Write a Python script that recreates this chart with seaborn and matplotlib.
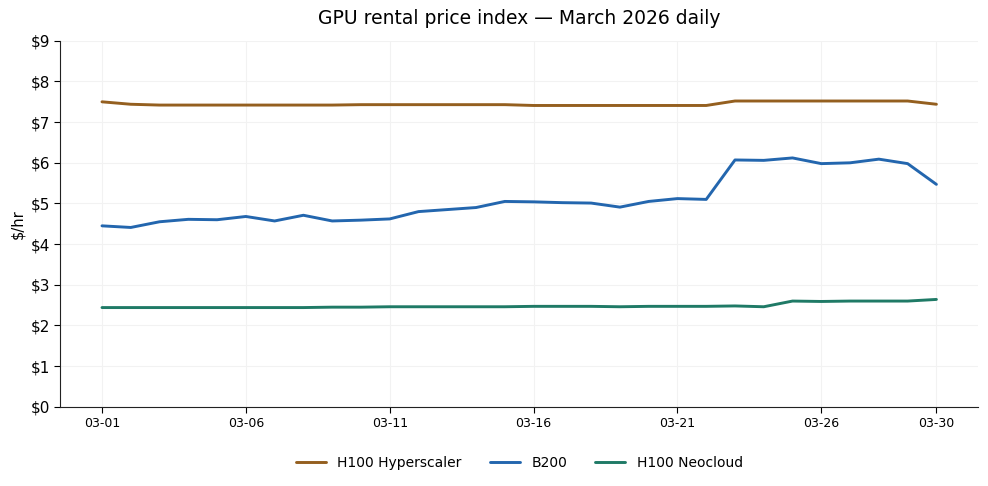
import matplotlib.pyplot as plt
import matplotlib.dates as mdates
import matplotlib.ticker as mticker
import seaborn as sns
import pandas as pd

dates = pd.date_range("2026-03-01", "2026-03-30", freq="D")

h100_hyperscaler = [7.50, 7.44, 7.42, 7.42, 7.42, 7.42, 7.42, 7.42, 7.42, 7.43,
                    7.43, 7.43, 7.43, 7.43, 7.43, 7.41, 7.41, 7.41, 7.41, 7.41,
                    7.41, 7.41, 7.52, 7.52, 7.52, 7.52, 7.52, 7.52, 7.52, 7.44]
b200 = [4.45, 4.41, 4.55, 4.61, 4.60, 4.68, 4.57, 4.71, 4.57, 4.59,
        4.62, 4.80, 4.85, 4.90, 5.05, 5.04, 5.02, 5.01, 4.91, 5.05,
        5.12, 5.10, 6.07, 6.06, 6.12, 5.98, 6.00, 6.09, 5.98, 5.47]
h100_neocloud = [2.44, 2.44, 2.44, 2.44, 2.44, 2.44, 2.44, 2.44, 2.45, 2.45,
                 2.46, 2.46, 2.46, 2.46, 2.46, 2.47, 2.47, 2.47, 2.46, 2.47,
                 2.47, 2.47, 2.48, 2.46, 2.60, 2.59, 2.60, 2.60, 2.60, 2.64]

series_names = ["H100 Hyperscaler", "B200", "H100 Neocloud"]
series_colors = ["#945f1f", "#2366ae", "#1f7a66"]

df = pd.concat([
    pd.DataFrame({"date": dates, "price": vals, "series": name})
    for name, vals in zip(series_names, [h100_hyperscaler, b200, h100_neocloud])
])

sns.set_style("white", {"axes.edgecolor": "#222222", "text.color": "black",
                        "axes.labelcolor": "black", "xtick.color": "black",
                        "ytick.color": "black", "xtick.bottom": True,
                        "ytick.left": True})
fig, ax = plt.subplots(figsize=(9.88, 4.86), dpi=100)
sns.lineplot(data=df, x="date", y="price", hue="series", hue_order=series_names,
             palette=series_colors, linewidth=2.1, ax=ax)

ax.set_title("GPU rental price index — March 2026 daily", fontsize=13.5, pad=12)
ax.set_xlabel("")
ax.set_ylabel("$/hr", fontsize=10.5)
ax.set_ylim(0, 9)
ax.yaxis.set_major_locator(mticker.MultipleLocator(1))
ax.yaxis.set_major_formatter(mticker.FuncFormatter(lambda v, p: f"${v:.0f}"))
tick_dates = [dates[i] for i in (0, 5, 10, 15, 20, 25, 29)]
ax.set_xticks(tick_dates)
ax.xaxis.set_major_formatter(mdates.DateFormatter("%m-%d"))
ax.tick_params(axis="x", labelsize=9, length=4)
ax.tick_params(axis="y", labelsize=11, length=4)
ax.grid(True, color="#f2f2f2", linewidth=0.8)
sns.despine(ax=ax)

ax.legend(loc="upper center", bbox_to_anchor=(0.5, -0.1), ncol=3, frameon=False,
          fontsize=10, handlelength=2.2, columnspacing=2.0)

fig.subplots_adjust(left=0.061, right=0.99, top=0.916, bottom=0.163)
fig.savefig("out.png", dpi=100)
